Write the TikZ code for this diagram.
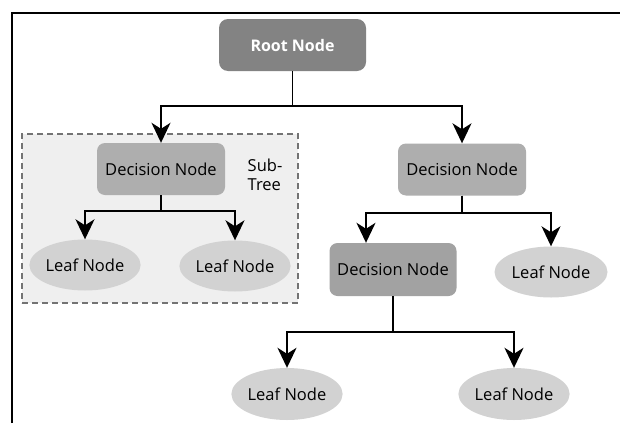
\documentclass[tikz,border=0pt]{standalone}
\usepackage{fontspec}
\setmainfont{Open Sans}
\usetikzlibrary{arrows.meta, positioning, shapes.geometric}

\definecolor{rootgray}{HTML}{838383}
\definecolor{decgray}{HTML}{AEAEAE}
\definecolor{decdark}{HTML}{A2A2A2}
\definecolor{leafgray}{HTML}{D2D2D2}
\definecolor{subbg}{HTML}{EFEFEF}

\begin{document}
\begin{tikzpicture}[x=1pt, y=-1pt,
  rootbox/.style={rectangle, rounded corners=9pt, fill=rootgray, text=white,
    font=\fontsize{16}{18}\selectfont\bfseries, minimum width=147pt, minimum height=52pt},
  decbox/.style={rectangle, rounded corners=8pt, fill=decgray,
    font=\fontsize{16.5}{18}\selectfont, minimum width=128pt, minimum height=52pt},
  leaf/.style={ellipse, fill=leafgray, inner sep=0pt,
    font=\fontsize{16.5}{18}\selectfont, minimum width=104pt, minimum height=51pt},
  subtree/.style={rectangle, draw=gray!90!black, dash pattern=on 6pt off 4pt,
    line width=1.2pt, fill=subbg, minimum width=276pt, minimum height=169pt},
  link/.style={line width=1.8pt, black},
  arr/.style={link, -{Stealth[length=20pt, width=19pt, inset=6pt]}}
]
\clip (0,0) rectangle (620,423);
\fill[white] (0,0) rectangle (620,423);

% frame
\draw[line width=1.4pt] (12,423) -- (12,13) -- (620,13);

% sub-tree box
\node[subtree] (sub) at (160,218.5) {};
\node[font=\fontsize{16.5}{19}\selectfont, align=left] (subtxt) at (265,175) {Sub-\\Tree};

% nodes
\node[rootbox] (root) at (292.5,45) {Root Node};
\node[decbox] (dl) at (161,169) {Decision Node};
\node[decbox] (dr) at (462,169.5) {Decision Node};
\node[decbox, fill=decdark, minimum width=127pt, minimum height=53pt] (dd) at (393,269.5) {Decision Node};
\node[leaf] (l1) at (85,265) {Leaf Node};
\node[leaf, minimum width=105pt] (l2) at (235,266) {Leaf Node};
\node[leaf, minimum width=113pt] (l3) at (551,272) {Leaf Node};
\node[leaf, minimum width=102pt, minimum height=52pt] (l4) at (287,394) {Leaf Node};
\node[leaf, minimum width=102pt, minimum height=52pt] (l5) at (514,394) {Leaf Node};

% junction heights
\coordinate (j0) at (0,106);
\coordinate (j1) at (0,211);
\coordinate (j2) at (0,213);
\coordinate (j3) at (0,332);

% connectors
\draw[link, line width=1.4pt] (root.south) -- (root.south |- j0);
\draw[arr] (root.south |- j0) -| (dl.north);
\draw[arr] (root.south |- j0) -| (dr.north);
\draw[arr] (dl.south) |- (l1 |- j1) -- (l1.north);
\draw[arr] (dl.south) |- (l2 |- j1) -- (l2.north);
\draw[arr] (dr.south) |- ([xshift=-27pt]dd.north |- j2) -- ([xshift=-27pt]dd.north);
\draw[arr] (dr.south) |- (l3 |- j2) -- (l3.north);
\draw[arr] (dd.south) |- (l4 |- j3) -- (l4.north);
\draw[arr] (dd.south) |- (l5 |- j3) -- (l5.north);
\end{tikzpicture}
\end{document}
